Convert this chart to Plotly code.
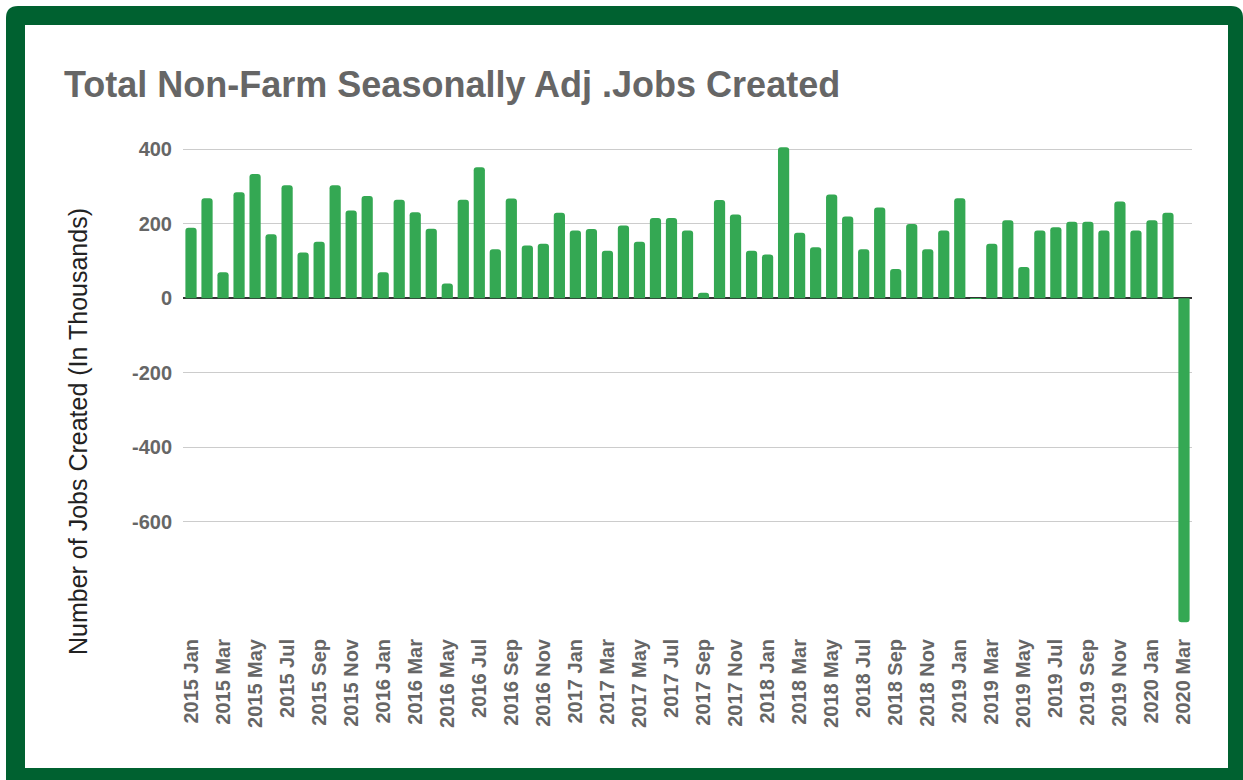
import plotly.graph_objects as go

# Monthly change in total non-farm payrolls, seasonally adjusted (thousands)
years = [2015, 2016, 2017, 2018, 2019, 2020]
month_names = ["Jan", "Feb", "Mar", "Apr", "May", "Jun",
               "Jul", "Aug", "Sep", "Oct", "Nov", "Dec"]

jobs_2015 = [190, 269, 70, 285, 334, 172, 304, 123, 152, 304, 236, 275]
jobs_2016 = [70, 265, 231, 187, 40, 265, 352, 132, 268, 142, 147, 230]
jobs_2017 = [182, 186, 128, 196, 152, 216, 216, 182, 15, 264, 225, 128]
jobs_2018 = [118, 406, 176, 137, 279, 220, 132, 244, 79, 200, 132, 182]
jobs_2019 = [269, 1, 147, 210, 84, 182, 191, 206, 206, 182, 260, 182]
jobs_2020 = [210, 230, -870]

y_ticks = [-600, -400, -200, 0, 200, 400]
y_tick_text = ["-600", "-400", "-200", "0", "200", "400"]

series = [jobs_2015, jobs_2016, jobs_2017, jobs_2018, jobs_2019, jobs_2020]
months = []
values = []
for yr, vals in zip(years, series):
    for i, v in enumerate(vals):
        months.append(f"{yr} {month_names[i]}")
        values.append(v)

# every other month gets a label
x_tick_labels = months[::2]

W, H = 1243, 780
ML, MR, MT, MB = 183, 51, 142, 154
PW, PH = W - ML - MR, H - MT - MB


def px(x):
    return (x - ML) / PW


def py(y):
    return (H - MB - y) / PH


def rounded_rect(x0, y0, x1, y1, r):
    return (f"M {px(x0)} {py(y0 + r)} Q {px(x0)} {py(y0)} {px(x0 + r)} {py(y0)} "
            f"L {px(x1 - r)} {py(y0)} Q {px(x1)} {py(y0)} {px(x1)} {py(y0 + r)} "
            f"L {px(x1)} {py(y1)} L {px(x0)} {py(y1)} Z")


green_frame = "#006130"
bar_green = "#34a853"
grey_text = "#666666"
font_family = "Liberation Sans, Arial, sans-serif"

fig = go.Figure(
    go.Bar(
        x=months,
        y=values,
        marker=dict(color=bar_green, line=dict(width=0), cornerradius=3),
        hoverinfo="x+y",
    )
)

fig.update_layout(
    width=W,
    height=H,
    margin=dict(l=ML, r=MR, t=MT, b=MB, pad=0),
    paper_bgcolor="white",
    plot_bgcolor="rgba(0,0,0,0)",
    bargap=0.3,
    showlegend=False,
    xaxis=dict(
        type="category",
        tickmode="array",
        tickvals=x_tick_labels,
        ticktext=x_tick_labels,
        tickangle=-90,
        tickfont=dict(family=font_family, size=20, color=grey_text, weight="bold"),
        showgrid=False,
        ticks="",
        ticklabelstandoff=8,
        showline=False,
        zeroline=False,
    ),
    yaxis=dict(
        range=[-880, 420],
        tickmode="array",
        tickvals=y_ticks,
        ticktext=y_tick_text,
        tickfont=dict(family=font_family, size=20, color=grey_text, weight="bold"),
        showgrid=True,
        gridcolor="#cccccc",
        gridwidth=1,
        zeroline=True,
        zerolinecolor="#333333",
        zerolinewidth=2,
        ticks="",
        ticklabelstandoff=10,
        showline=False,
    ),
    shapes=[
        dict(type="path", xref="paper", yref="paper", layer="below",
             path=rounded_rect(6, 6, 1243, 790, 12),
             fillcolor=green_frame, line=dict(width=0)),
        dict(type="rect", xref="paper", yref="paper", layer="below",
             x0=px(25), x1=px(1228), y0=py(25), y1=py(768),
             fillcolor="white", line=dict(width=0)),
    ],
    annotations=[
        dict(text="<b>Total Non-Farm Seasonally Adj .Jobs Created</b>",
             xref="paper", yref="paper", x=px(62), y=py(84),
             xanchor="left", yanchor="middle", showarrow=False,
             font=dict(family=font_family, size=36, color=grey_text)),
        dict(text="Number of Jobs Created (In Thousands)",
             xref="paper", yref="paper", x=px(78), y=py(432),
             xanchor="center", yanchor="middle", textangle=-90, showarrow=False,
             font=dict(family=font_family, size=25, color="#222222")),
    ],
)

fig.write_html("out.html")
